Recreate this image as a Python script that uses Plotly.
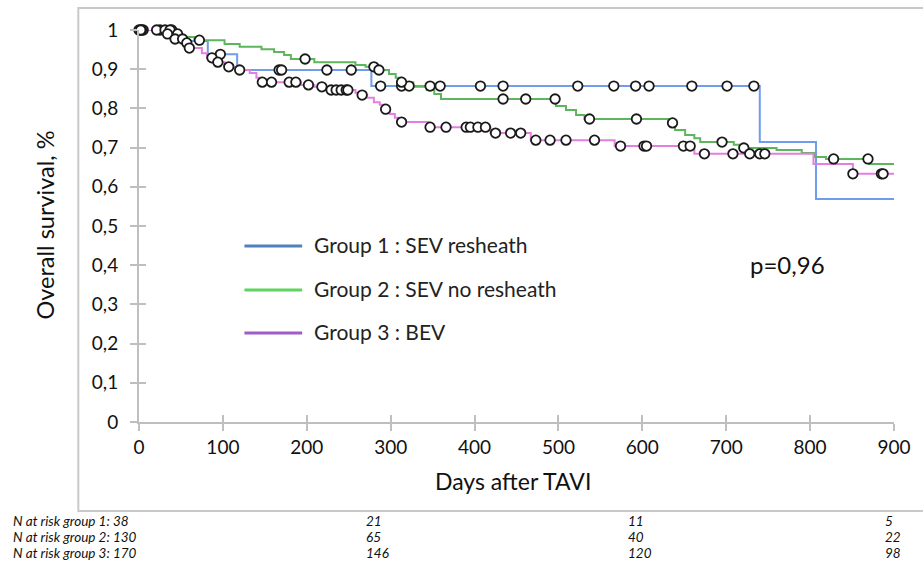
import numpy as np
import plotly.graph_objects as go

# ---------------- data ----------------
blue_days = [0, 46, 82, 117, 277, 740, 807, 900]
blue_surv = [1.0, 0.972, 0.938, 0.898, 0.857, 0.714, 0.569, 0.569]
blue_cens = [5, 25, 39, 97, 167, 170, 224, 253, 288, 313, 322, 347, 359, 407,
             434, 523, 566, 592, 608, 659, 701, 733]

green_days = [0, 39, 49, 66, 102, 120, 146, 161, 173, 181, 209, 258, 270, 283,
              298, 306, 313, 327, 343, 352, 360, 497, 509, 521, 531, 631, 639,
              651, 662, 669, 709, 716, 760, 790, 805, 819, 870, 900]
green_surv = [1.0, 0.99, 0.982, 0.974, 0.964, 0.957, 0.951, 0.944, 0.936, 0.926,
              0.918, 0.911, 0.906, 0.898, 0.888, 0.878, 0.867, 0.855, 0.847,
              0.837, 0.824, 0.806, 0.796, 0.783, 0.773, 0.763, 0.745, 0.732,
              0.724, 0.714, 0.707, 0.699, 0.694, 0.686, 0.676, 0.671, 0.658, 0.658]
green_cens = [3, 21, 31, 37, 46, 72, 198, 280, 286, 313, 434, 461, 496, 537, 593,
              636, 695, 721, 828, 869]

pink_days = [0, 31, 42, 53, 60, 75, 81, 88, 102, 120, 132, 140, 146, 193, 209,
             226, 258, 264, 272, 280, 287, 293, 299, 305, 309, 345, 419, 467,
             567, 662, 804, 851, 900]
pink_surv = [1.0, 0.99, 0.977, 0.967, 0.954, 0.941, 0.929, 0.918, 0.906, 0.898,
             0.89, 0.878, 0.867, 0.86, 0.855, 0.847, 0.84, 0.834, 0.827, 0.816,
             0.809, 0.798, 0.786, 0.776, 0.765, 0.752, 0.737, 0.719, 0.704,
             0.684, 0.658, 0.633, 0.633]
pink_cens = [0, 2, 34, 43, 52, 57, 60, 87, 94, 107, 120, 147, 158, 179, 187, 202,
             218, 229, 235, 241, 247, 249, 266, 294, 313, 347, 366, 390, 395, 404,
             413, 425, 443, 455, 473, 490, 509, 543, 574, 602, 605, 649, 657, 674,
             708, 728, 740, 746, 851, 885, 887]

group_names = ["Group 1 : SEV resheath", "Group 2 : SEV no resheath", "Group 3 : BEV"]
p_value_text = "p=0,96"

x_ticks = [0, 100, 200, 300, 400, 500, 600, 700, 800, 900]
x_ticktext = ["0", "100", "200", "300", "400", "500", "600", "700", "800", "900"]
y_ticks = [0, 0.1, 0.2, 0.3, 0.4, 0.5, 0.6, 0.7, 0.8, 0.9, 1.0]
y_ticktext = ["0", "0,1", "0,2", "0,3", "0,4", "0,5", "0,6", "0,7", "0,8", "0,9", "1"]

risk_labels = ["N at risk group 1: 38", "N at risk group 2: 130", "N at risk group 3: 170"]
risk_cols = [["21", "11", "5"], ["65", "40", "22"], ["146", "120", "98"]]

# ---------------- styling ----------------
W, H = 923, 566
L, R, T, B = 139, 25, 30, 144
PW, PH = W - L - R, H - T - B
FONT = "Lato"


def px_x(px):
    return (px - L) / PW


def px_y(py):
    return (H - B - py) / PH


def surv_at(days, surv, t):
    idx = np.searchsorted(np.array(days), np.array(t), side="right") - 1
    return list(np.array(surv)[idx])


line_cols = ["#6f9cec", "#5db55d", "#e27fe0"]
legend_cols = ["#4f81bd", "#5fd35f", "#a05cc8"]

fig = go.Figure()
series = [(blue_days, blue_surv, blue_cens), (green_days, green_surv, green_cens),
          (pink_days, pink_surv, pink_cens)]
for (d, s, c), col, nm in zip(series, line_cols, group_names):
    fig.add_trace(go.Scatter(x=d, y=s, mode="lines", name=nm,
                             line=dict(color=col, width=2, shape="hv"),
                             showlegend=False, cliponaxis=False, hoverinfo="skip"))
for (d, s, c), nm in zip(series, group_names):
    fig.add_trace(go.Scatter(x=c, y=surv_at(d, s, c), mode="markers", name=nm,
                             marker=dict(symbol="circle", size=9.5, color="white",
                                         line=dict(color="#1a1a1a", width=1.8)),
                             showlegend=False, cliponaxis=False))
# helper trace for the overlay axes (crossing ticks)
fig.add_trace(go.Scatter(x=[None], y=[None], xaxis="x2", yaxis="y2", showlegend=False))

axis_col = "#bfbfbf"
fig.update_layout(
    width=W, height=H,
    margin=dict(l=L, r=R, t=T, b=B),
    paper_bgcolor="white", plot_bgcolor="white",
    font=dict(family=FONT, color="#111111"),
    showlegend=False,
    xaxis=dict(range=[0, 900], tickvals=x_ticks, ticktext=x_ticktext,
               ticks="outside", ticklen=7, tickwidth=1.5, tickcolor=axis_col,
               showline=True, linecolor=axis_col, linewidth=2,
               showgrid=False, zeroline=False, tickfont=dict(size=19, color="#111")),
    yaxis=dict(range=[0, 1], tickvals=y_ticks, ticktext=y_ticktext,
               ticks="outside", ticklen=7, tickwidth=1.5, tickcolor=axis_col,
               showline=True, linecolor=axis_col, linewidth=2, ticklabelstandoff=8,
               showgrid=False, zeroline=False, tickfont=dict(size=19, color="#111")),
    xaxis2=dict(range=[0, 900], tickvals=x_ticks, ticks="inside", ticklen=7,
                tickwidth=1.5, tickcolor=axis_col, showticklabels=False,
                showline=False, showgrid=False, zeroline=False,
                overlaying="x", anchor="y2"),
    yaxis2=dict(range=[0, 1], tickvals=y_ticks, ticks="inside", ticklen=7,
                tickwidth=1.5, tickcolor=axis_col, showticklabels=False,
                showline=False, showgrid=False, zeroline=False,
                overlaying="y", anchor="x2"),
)

shapes = [dict(type="rect", xref="paper", yref="paper",
               x0=px_x(78), x1=px_x(930), y0=px_y(511), y1=px_y(8),
               line=dict(color="#c9c9c9", width=2), fillcolor="rgba(0,0,0,0)", layer="below")]
ann = []
leg_y = [246, 290, 333]
for nm, col, ly in zip(group_names, legend_cols, leg_y):
    shapes.append(dict(type="line", xref="paper", yref="paper",
                       x0=px_x(245), x1=px_x(303), y0=px_y(ly), y1=px_y(ly),
                       line=dict(color=col, width=3)))
    ann.append(dict(text=nm, xref="paper", yref="paper", x=px_x(313), y=px_y(ly - 2),
                    xanchor="left", yanchor="middle", showarrow=False,
                    font=dict(size=21, color="#222", family=FONT)))
ann.append(dict(text=p_value_text, xref="paper", yref="paper", x=px_x(751), y=px_y(264),
                xanchor="left", yanchor="middle", showarrow=False,
                font=dict(size=24, color="#111", family=FONT)))
ann.append(dict(text="Days after TAVI", xref="paper", yref="paper", x=px_x(515), y=px_y(481),
                xanchor="center", yanchor="middle", showarrow=False,
                font=dict(size=23, color="#111", family=FONT)))
ann.append(dict(text="Overall survival, %", xref="paper", yref="paper", x=px_x(45), y=px_y(225),
                xanchor="center", yanchor="middle", showarrow=False, textangle=-90,
                font=dict(size=23.5, color="#111", family=FONT)))
row_y = [521, 537, 553]
col_x = [365, 629, 887]
for lab, vals, ry in zip(risk_labels, risk_cols, row_y):
    ann.append(dict(text="<i>%s</i>" % lab, xref="paper", yref="paper", x=px_x(10), y=px_y(ry),
                    xanchor="left", yanchor="middle", showarrow=False,
                    font=dict(size=13.5, color="#111", family=FONT)))
    for v, cx in zip(vals, col_x):
        ann.append(dict(text="<i>%s</i>" % v, xref="paper", yref="paper", x=px_x(cx), y=px_y(ry),
                        xanchor="left", yanchor="middle", showarrow=False,
                        font=dict(size=13.5, color="#111", family=FONT)))

fig.update_layout(shapes=shapes, annotations=ann)
fig.write_html("out.html", config={"displayModeBar": False},
               post_script="document.body.style.margin='0px';document.body.style.padding='0px';")
